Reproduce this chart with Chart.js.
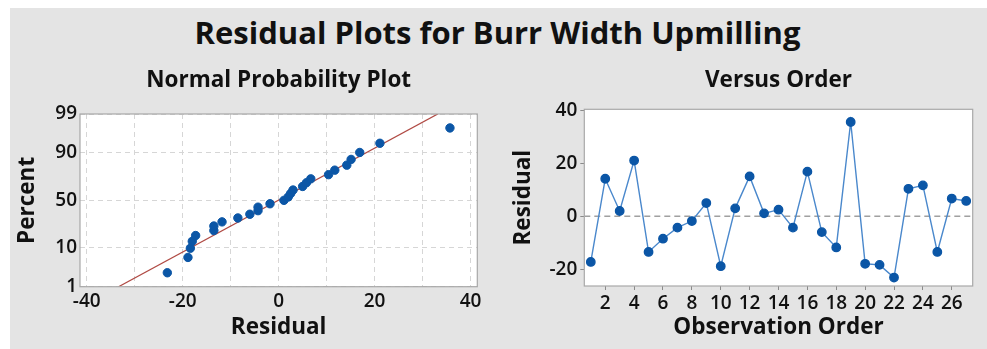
<!DOCTYPE html>
<html><head><meta charset="utf-8">
<script src="https://cdn.jsdelivr.net/npm/chart.js@4/dist/chart.umd.min.js"></script>
<style>
html,body{margin:0;padding:0;background:#fff;width:987px;height:349px;overflow:hidden;}
#bg{position:absolute;left:10px;top:8px;width:977px;height:341px;background:#e4e4e4;}
#title{position:absolute;left:0;top:11px;width:995px;text-align:center;font:700 31px 'Open Sans',sans-serif;color:#111;white-space:nowrap;}
canvas{position:absolute;}
#c1{left:10px;top:50px;}
#c2{left:500px;top:50px;}
</style></head>
<body>
<div id="bg"></div>
<div id="title">Residual Plots for Burr Width Upmilling</div>
<canvas id="c1" width="480" height="299"></canvas>
<canvas id="c2" width="487" height="299"></canvas>
<script>
// ---- data ----
const observationOrder = [1,2,3,4,5,6,7,8,9,10,11,12,13,14,15,16,17,18,19,20,21,22,23,24,25,26,27];
const residuals = [-17.3,14.2,2.0,21.1,-13.5,-8.5,-4.3,-1.8,5.0,-18.9,3.0,15.1,1.1,2.5,-4.3,16.9,-6.0,-11.8,35.7,-18.0,-18.4,-23.2,10.4,11.7,-13.5,6.7,5.8];
const percentTicks = [1,10,50,90,99];
const probGridTicks = [-40,-30,-20,-10,0,10,20,30,40];
const probLabelTicks = [-40,-20,0,20,40];
const orderTicks = [2,4,6,8,10,12,14,16,18,20,22,24,26];
const orderResidualTicks = [-20,0,20,40];
const fitMean = -0.1;
const fitSd = 14.3;

// inverse standard normal (probability-scale transform)
function probit(p){
  const a=[-3.969683028665376e+01,2.209460984245205e+02,-2.759285104469687e+02,1.383577518672690e+02,-3.066479806614716e+01,2.506628277459239e+00];
  const b=[-5.447609879822406e+01,1.615858368580409e+02,-1.556989798598866e+02,6.680131188771972e+01,-1.328068155288572e+01];
  const c=[-7.784894002430293e-03,-3.223964580411365e-01,-2.400758277161838e+00,-2.549732539343734e+00,4.374664141464968e+00,2.938163982698783e+00];
  const d=[7.784695709041462e-03,3.224671290700398e-01,2.445134137142996e+00,3.754408661907416e+00];
  const pl=0.02425, ph=1-pl; let q,r;
  if(p<pl){q=Math.sqrt(-2*Math.log(p));return (((((c[0]*q+c[1])*q+c[2])*q+c[3])*q+c[4])*q+c[5])/((((d[0]*q+d[1])*q+d[2])*q+d[3])*q+1);}
  if(p>ph){q=Math.sqrt(-2*Math.log(1-p));return -(((((c[0]*q+c[1])*q+c[2])*q+c[3])*q+c[4])*q+c[5])/((((d[0]*q+d[1])*q+d[2])*q+d[3])*q+1);}
  q=p-0.5;r=q*q;return (((((a[0]*r+a[1])*r+a[2])*r+a[3])*r+a[4])*r+a[5])*q/(((((b[0]*r+b[1])*r+b[2])*r+b[3])*r+b[4])*r+1);
}

Chart.defaults.font.family = "'Open Sans', sans-serif";
Chart.defaults.color = '#111';

const frame = {
  id:'frame',
  beforeDraw(chart){const {ctx,chartArea:a}=chart;ctx.save();ctx.fillStyle='#fff';ctx.fillRect(a.left,a.top,a.width,a.height);ctx.restore();},
  afterDraw(chart){const {ctx,chartArea:a}=chart;ctx.save();ctx.strokeStyle='#a8a8a8';ctx.lineWidth=1.2;ctx.strokeRect(a.left,a.top,a.width,a.height);ctx.restore();}
};

const tickFont = {size:19, weight:'600'};
const axisTitleFont = {size:22.5, weight:'700'};
const subTitleFont = {size:22.5, weight:'700'};
const markerColor = '#0b56a6';

// ---- Normal probability plot ----
const n = residuals.length;
const sorted = residuals.slice().sort((x,y)=>x-y);
const probPoints = sorted.map((v,i)=>({x:v, y:probit((i+1-0.3)/(n+0.4))}));
const zMin = probit(percentTicks[0]/100), zMax = probit(percentTicks[percentTicks.length-1]/100);
const fitLine = [{x:fitMean+fitSd*zMin, y:zMin},{x:fitMean+fitSd*zMax, y:zMax}];

new Chart(document.getElementById('c1'), {
  type:'scatter',
  data:{datasets:[
    {type:'line', data:fitLine, borderColor:'#b04a44', borderWidth:1.3, pointRadius:0, fill:false, order:2},
    {data:probPoints, backgroundColor:markerColor, borderColor:markerColor, pointRadius:4.2, pointHoverRadius:4.2, order:1}
  ]},
  options:{
    responsive:false, animation:false, events:[],
    layout:{padding:{top:17,right:12.7,left:0,bottom:0}},
    plugins:{legend:{display:false}, tooltip:{enabled:false},
      title:{display:true, fullSize:false, text:'Normal Probability Plot', font:subTitleFont, color:'#111', padding:{top:0,bottom:20}}},
    scales:{
      x:{type:'linear', min:-41.4, max:41.4,
        afterBuildTicks:s=>{s.ticks=probGridTicks.map(v=>({value:v}));},
        afterFit:s=>{s.height=62.3;},
        ticks:{autoSkip:false, maxRotation:0, padding:3, font:tickFont, color:'#111',
          callback:v=>probLabelTicks.includes(v)?String(v):''},
        grid:{color:'#d6d6d6', drawTicks:false, lineWidth:1},
        border:{display:false, dash:[5,4]},
        title:{display:true, text:'Residual', font:axisTitleFont, color:'#111', padding:{top:0,bottom:8}}
      },
      y:{type:'linear', min:zMin, max:zMax,
        afterBuildTicks:s=>{s.ticks=percentTicks.map(p=>({value:probit(p/100)}));},
        afterFit:s=>{s.width=70;},
        ticks:{autoSkip:false, padding:3, font:tickFont, color:'#111',
          callback:(v,i)=>String(percentTicks[i])},
        grid:{color:'#d6d6d6', drawTicks:false, lineWidth:1},
        border:{display:false, dash:[5,4]},
        title:{display:true, text:'Percent', font:axisTitleFont, color:'#111', padding:{top:4,bottom:0}}
      }
    }
  },
  plugins:[frame]
});

// ---- Versus order ----
const xMinO = 0.55, xMaxO = 27.45;
const orderPoints = observationOrder.map((o,i)=>({x:o, y:residuals[i]}));
const zeroLine = [{x:xMinO,y:0},{x:xMaxO,y:0}];

new Chart(document.getElementById('c2'), {
  type:'scatter',
  data:{datasets:[
    {type:'line', data:zeroLine, borderColor:'#a0a0a0', borderWidth:1.3, borderDash:[6,4], pointRadius:0, fill:false, order:3},
    {type:'line', data:orderPoints, borderColor:'#4a88cc', borderWidth:1.4, backgroundColor:markerColor,
     pointBackgroundColor:markerColor, pointBorderColor:markerColor, pointRadius:4.2, pointHoverRadius:4.2, fill:false, tension:0, order:1}
  ]},
  options:{
    responsive:false, animation:false, events:[],
    layout:{padding:{top:17,right:14.3,left:0,bottom:0}},
    plugins:{legend:{display:false}, tooltip:{enabled:false},
      title:{display:true, fullSize:false, text:'Versus Order', font:subTitleFont, color:'#111', padding:{top:0,bottom:15.3}}},
    scales:{
      x:{type:'linear', min:xMinO, max:xMaxO,
        afterBuildTicks:s=>{s.ticks=orderTicks.map(v=>({value:v}));},
        afterFit:s=>{s.height=63;},
        ticks:{autoSkip:false, maxRotation:0, padding:2, font:tickFont, color:'#111'},
        grid:{drawOnChartArea:false, drawTicks:true, tickLength:4, color:'#8a8a8a'},
        border:{display:false},
        title:{display:true, text:'Observation Order', font:axisTitleFont, color:'#111', padding:{top:0,bottom:8}}
      },
      y:{type:'linear', min:-26.4, max:40.5,
        afterBuildTicks:s=>{s.ticks=orderResidualTicks.map(v=>({value:v}));},
        afterFit:s=>{s.width=84.3;},
        ticks:{autoSkip:false, padding:3, font:tickFont, color:'#111'},
        grid:{drawOnChartArea:false, drawTicks:true, tickLength:4, color:'#8a8a8a'},
        border:{display:false},
        title:{display:true, text:'Residual', font:axisTitleFont, color:'#111', padding:{top:10,bottom:0}}
      }
    }
  },
  plugins:[frame]
});
</script>
</body></html>
